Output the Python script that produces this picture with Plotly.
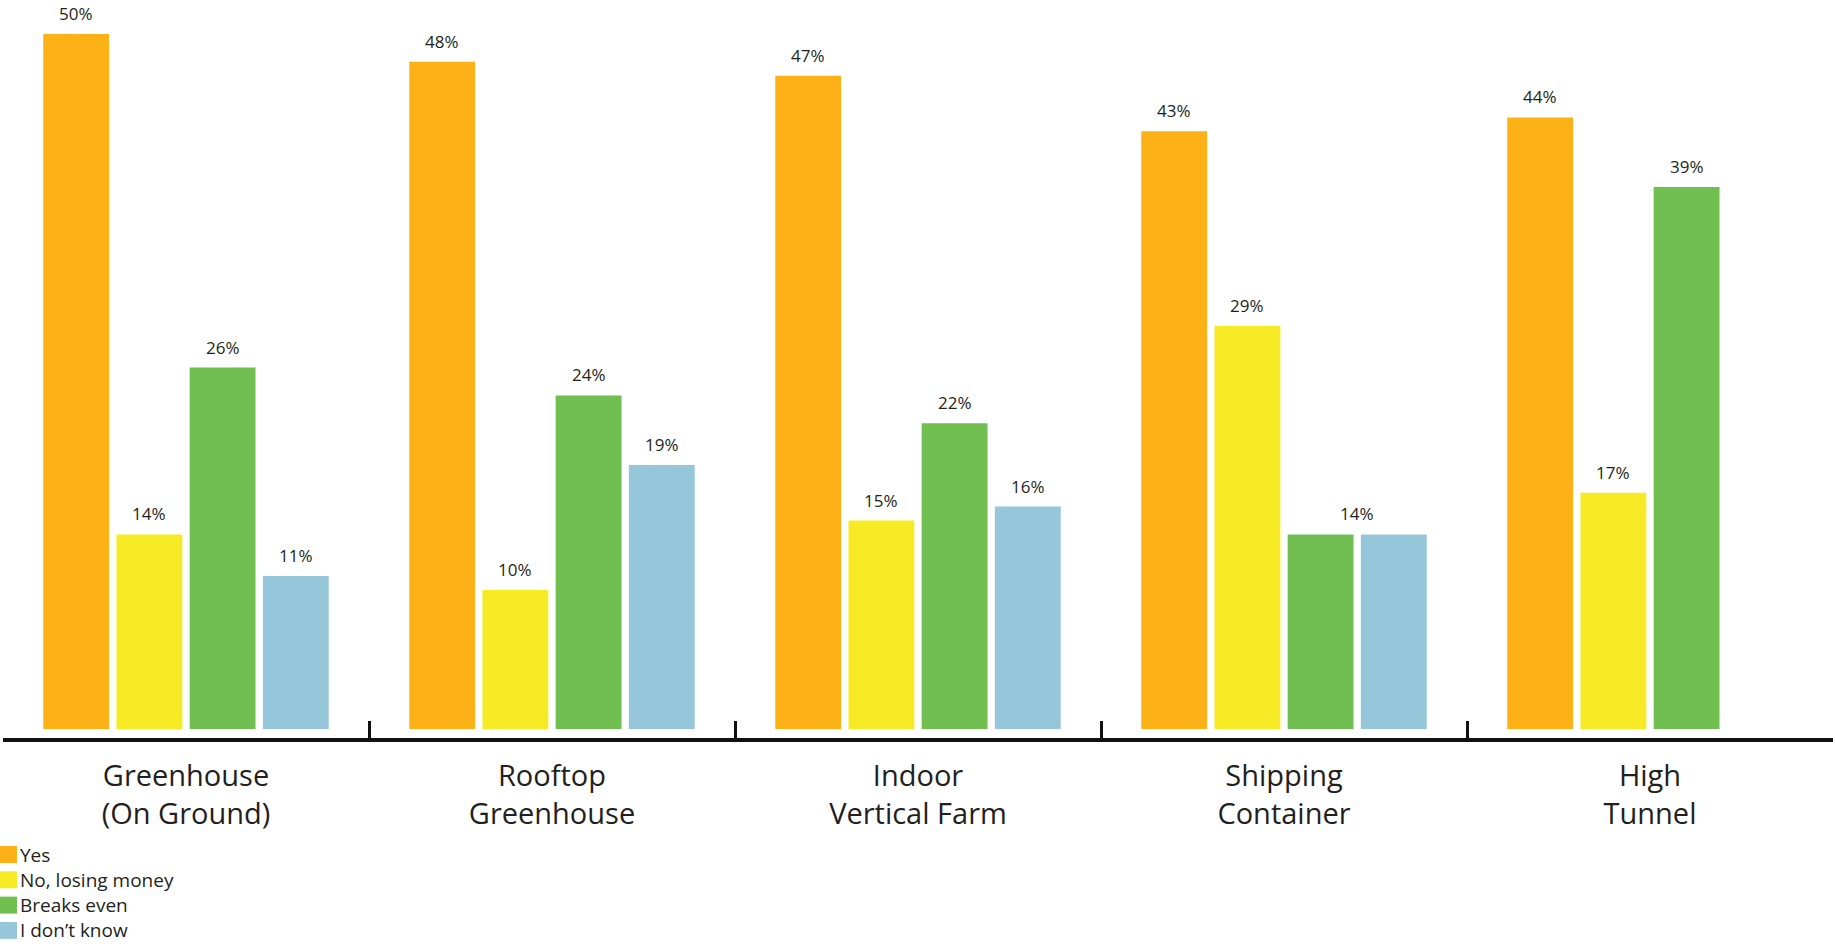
import plotly.graph_objects as go

# Survey: is the farm profitable, by growing structure
categories = ["Greenhouse<br>(On Ground)", "Rooftop<br>Greenhouse", "Indoor<br>Vertical Farm",
              "Shipping<br>Container", "High<br>Tunnel"]
series_names = ["Yes", "No, losing money", "Breaks even", "I don\u2019t know"]
yes = [50, 48, 47, 43, 44]
losing_money = [14, 10, 15, 29, 17]
breaks_even = [26, 24, 22, 14, 39]
dont_know = [11, 19, 16, 14, None]
series_values = [yes, losing_money, breaks_even, dont_know]
colors = ["#FCB216", "#F6EA25", "#72BF51", "#95C6D9"]
# (category index, first series, last series) sharing one value label
shared_labels = [(3, 2, 3)]

W, H = 1835, 946
M_L, M_R, M_T, M_B = 3, 2, 0, 208
PLOT_W = W - M_L - M_R
PLOT_H = H - M_T - M_B
BARGAP, GROUPGAP = 0.2, 0.1
PX_PER_PCT = 13.9
BASE_PAD = 9  # pixels between bar base and axis line

FONT = "Open Sans"
TEXT_COLOR = "#231F20"

fig = go.Figure()
for name, vals, col in zip(series_names, series_values, colors):
    fig.add_trace(go.Bar(
        x=categories, y=vals, name=name,
        marker=dict(color=col, line=dict(width=0)),
        showlegend=False, hoverinfo="x+y+name",
    ))

# invisible trace that carries the group-boundary tick axis
fig.add_trace(go.Scatter(x=[None], y=[None], xaxis="x2", showlegend=False,
                         hoverinfo="skip"))

# value labels above bars
slot_px = PLOT_W / len(categories) * (1 - BARGAP) / len(series_names)
n_s = len(series_names)
shared_skip = set()
for c, s0, s1 in shared_labels:
    for s in range(s0, s1 + 1):
        shared_skip.add((c, s))

annotations = []
label_font = dict(family=FONT, size=17, color=TEXT_COLOR)
LABEL_LIFT = 7
for si, vals in enumerate(series_values):
    for ci, v in enumerate(vals):
        if v is None or (ci, si) in shared_skip:
            continue
        annotations.append(dict(
            x=categories[ci], y=v, xref="x", yref="y", text=f"{v}%",
            showarrow=False, yanchor="bottom", yshift=LABEL_LIFT,
            xshift=(si - (n_s - 1) / 2) * slot_px, font=label_font,
        ))
for ci, s0, s1 in shared_labels:
    v = max(series_values[s][ci] for s in range(s0, s1 + 1))
    annotations.append(dict(
        x=categories[ci], y=v, xref="x", yref="y", text=f"{v}%",
        showarrow=False, yanchor="bottom", yshift=LABEL_LIFT,
        xshift=((s0 + s1) / 2 - (n_s - 1) / 2) * slot_px, font=label_font,
    ))

# legend drawn at the lower left
def px_x(px):
    return (px - M_L) / PLOT_W

def px_y(py):
    return (PLOT_H + M_T - py) / PLOT_H

shapes = []
sw_top, sw_size, row_step = 846, 17, 25.3
for i, (name, col) in enumerate(zip(series_names, colors)):
    top = sw_top + i * row_step
    shapes.append(dict(type="rect", xref="paper", yref="paper",
                       x0=px_x(0), x1=px_x(sw_size), y0=px_y(top + sw_size), y1=px_y(top),
                       fillcolor=col, line=dict(width=0)))
    annotations.append(dict(
        x=px_x(18), y=px_y(top + sw_size / 2), xref="paper", yref="paper",
        text=name, showarrow=False, xanchor="left", yanchor="middle",
        font=dict(family=FONT, size=19, color=TEXT_COLOR),
    ))

y_min = -BASE_PAD / PX_PER_PCT
y_max = (PLOT_H - BASE_PAD) / PX_PER_PCT

fig.update_layout(
    width=W, height=H,
    margin=dict(l=M_L, r=M_R, t=M_T, b=M_B, pad=0),
    paper_bgcolor="white", plot_bgcolor="white",
    barmode="group", bargap=BARGAP, bargroupgap=GROUPGAP,
    font=dict(family=FONT, color=TEXT_COLOR),
    xaxis=dict(
        showline=True, linewidth=4, linecolor="#111111",
        ticks="", showgrid=False, zeroline=False,
        tickfont=dict(family=FONT, size=29, color=TEXT_COLOR),
        ticklabelstandoff=9,
    ),
    xaxis2=dict(
        overlaying="x", anchor="y", side="bottom",
        range=[-0.5, len(categories) - 0.5],
        tickvals=[i + 0.5 for i in range(len(categories) - 1)],
        ticks="inside", ticklen=17, tickwidth=2.5, tickcolor="#111111",
        showticklabels=False, showgrid=False, zeroline=False, showline=False,
    ),
    yaxis=dict(range=[y_min, y_max], visible=False, showgrid=False, zeroline=False),
    annotations=annotations,
    shapes=shapes,
    showlegend=False,
)

fig.write_html("out.html")
